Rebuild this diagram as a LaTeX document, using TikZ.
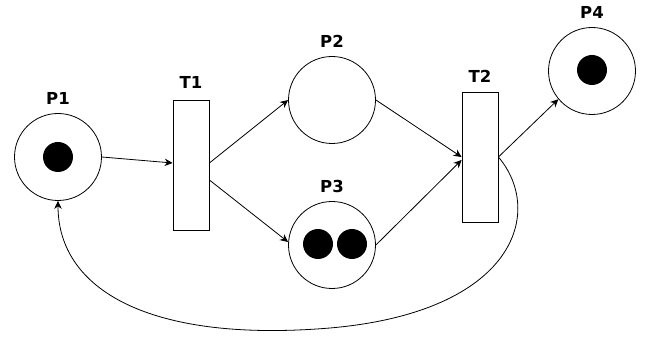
\documentclass[tikz,border=0pt]{standalone}
\usepackage{fontspec}
\setmainfont{DejaVu Sans}
\usetikzlibrary{arrows.meta}
\begin{document}
\begin{tikzpicture}[x=1pt,y=-1pt,
  place/.style={draw, circle, minimum size=87pt, inner sep=0pt, line width=0.8pt},
  trans/.style={draw, rectangle, minimum width=36pt, minimum height=130pt, inner sep=0pt, line width=0.8pt},
  token/.style={fill=black, circle, minimum size=30pt, inner sep=0pt},
  lbl/.style={font=\bfseries\fontsize{16.5}{18}\selectfont, inner sep=0pt},
  arc/.style={line width=0.8pt, -{Stealth[length=8pt,width=7.5pt]}}]
\useasboundingbox (0,0) rectangle (657,339);
% places and transitions
\node[place] (P1) at (58,157) {};
\node[place] (P2) at (332,100) {};
\node[place] (P3) at (332,245) {};
\node[place] (P4) at (592,71) {};
\node[trans] (T1) at (191,165) {};
\node[trans] (T2) at (480,157) {};
% tokens
\node[token] (k1) at (58,157) {};
\node[token] (k2) at (318,244) {};
\node[token] (k3) at (352,244) {};
\node[token] (k4) at (592,70) {};
% labels
\node[lbl] (l1) at (58,98) {P1};
\node[lbl] (l2) at (332,41) {P2};
\node[lbl] (l3) at (332,186) {P3};
\node[lbl] (l4) at (592,12) {P4};
\node[lbl] (l5) at (191,82) {T1};
\node[lbl] (l6) at (480,76) {T2};
% arcs
\draw[arc] (P1.east) -- ([yshift=2pt]T1.west);
\draw[arc] ([yshift=2pt]T1.east) -- (P2.west);
\draw[arc] ([yshift=-15pt]T1.east) -- ([yshift=3pt]P3.west);
\draw[arc] (P2.east) -- (T2.west);
\draw[arc] (P3.east) -- ([yshift=-3pt]T2.west);
\draw[arc] (T2.east) -- (P4.-140);
% feedback arc from T2 back to P1
\draw[arc] (T2.east) .. controls (545,212) and (515,312) .. (330,328)
  .. controls (150,343) and (58,290) .. (P1.south);
\end{tikzpicture}
\end{document}
